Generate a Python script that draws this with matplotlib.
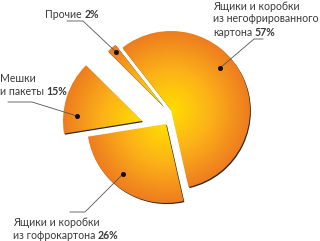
import matplotlib
matplotlib.use("Agg")
import matplotlib.pyplot as plt
import numpy as np
from matplotlib.patches import Wedge
from matplotlib.colors import LinearSegmentedColormap

# ---- data ----
categories = ["Ящики и коробки\nиз негофрированного\nкартона",
              "Ящики и коробки\nиз гофрокартона",
              "Мешки\nи пакеты",
              "Прочие"]
values = [57, 26, 15, 2]

# ---- styles / layout (pixel coords, y down) ----
W, H = 320, 241
R = 79
origins_px = [(171, 110), (166, 124), (142, 121), (164, 107)]
label_pos = [(213, 9.5), (13, 226), (0, 82), (45, 18)]   # left x, first baseline
line_h = 13
leaders = [[(263, 39), (254, 39), (220, 68)],
           [(70, 212), (85, 212), (123, 174)],
           [(8, 102), (32, 102), (77, 116)],
           [(67, 21), (83, 21), (116, 52)]]
FONT = "Lato"
FS = 7.6
TXT = "#3a3a3a"

cmap = LinearSegmentedColormap.from_list(
    "g", [(0.0, "#FFDE00"), (0.5, "#FCB218"), (1.0, "#EE7C1F")])


def P(x, y):
    return (x, H - y)


fig = plt.figure(figsize=(W / 100, H / 100), dpi=100)
ax = fig.add_axes([0, 0, 1, 1])
wedges, _ = ax.pie(values, radius=R, center=P(166, 115), startangle=128,
                   counterclock=False)
ax.set_xlim(0, W)
ax.set_ylim(0, H)
ax.set_aspect("auto")
ax.axis("off")

xx, yy = np.meshgrid(np.arange(W) + 0.5, np.arange(H) + 0.5)
for w, o in zip(wedges, origins_px):
    c = P(*o)
    w.set_center(c)
    w.set_facecolor("none")
    w.set_edgecolor("none")
    sh = Wedge((c[0] + 0.9, c[1] - 1.1), R, w.theta1, w.theta2,
               facecolor="#2b2b2b", edgecolor="none", zorder=1)
    ax.add_patch(sh)
    d = np.hypot(xx - c[0], yy - c[1]) / R
    im = ax.imshow(d, extent=(0, W, 0, H), origin="lower", cmap=cmap,
                   vmin=0, vmax=1, zorder=2, interpolation="bilinear")
    im.set_clip_path(w)
ax.set_xlim(0, W)
ax.set_ylim(0, H)

# leaders
for pts in leaders:
    xs = [p[0] for p in pts]
    ys = [H - p[1] for p in pts]
    ax.plot(xs, ys, color="#555555", lw=0.6, zorder=3)
    ax.plot(xs[-1], ys[-1], "o", color="#111111", ms=2.6, zorder=4)

# labels
fig.canvas.draw()
rend = fig.canvas.get_renderer()
for cat, v, (x0, y0) in zip(categories, values, label_pos):
    lines = cat.split("\n")
    for i, ln in enumerate(lines):
        yb = H - (y0 + i * line_h)
        t = ax.text(x0, yb, ln, fontsize=FS, family=FONT, color=TXT,
                    va="baseline", ha="left", zorder=5)
        if i == len(lines) - 1:
            bb = t.get_window_extent(rend)
            ax.text(bb.x1 + 2.6, yb, f"{v}%", fontsize=FS, family=FONT,
                    color=TXT, weight="bold", va="baseline", ha="left", zorder=5)

fig.savefig("out.png", dpi=100)
